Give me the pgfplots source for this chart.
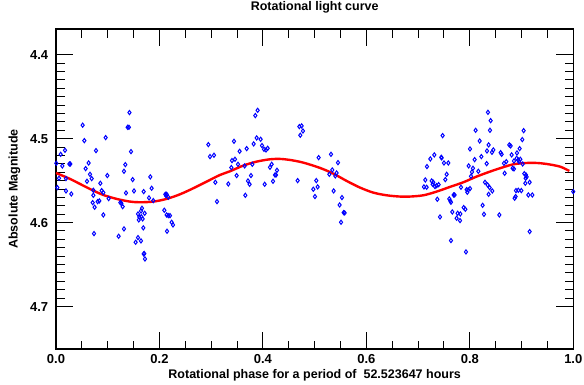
\documentclass[border=0pt]{standalone}
\usepackage{pgfplots}
\pgfplotsset{compat=1.18}
\usepackage{fontspec}
\setmainfont{Liberation Sans}
\newcommand{\lf}{\fontsize{13}{15}\selectfont\bfseries}
\newcommand{\tf}{\fontsize{12.5}{15}\selectfont\bfseries}
\begin{document}
\begin{tikzpicture}
\path[use as bounding box] (-56pt,-36pt) rectangle (528pt,349pt);
\begin{axis}[
  width=517.3pt, height=320pt, scale only axis,
  xmin=0, xmax=1, ymin=4.3695, ymax=4.7505,
  y dir=reverse,
  axis line style={line width=1.1pt},
  every tick/.style={line width=1pt, black},
  tick align=inside, tick pos=both,
  major tick length=17pt, minor tick length=8.5pt,
  xtick={0,0.2,0.4,0.6,0.8,1.0}, minor x tick num=3,
  ytick={4.4,4.5,4.6,4.7}, minor y tick num=9,
  /pgf/number format/assume math mode=true,
  xticklabel style={/pgf/number format/fixed, /pgf/number format/fixed zerofill, /pgf/number format/precision=1, font=\lf, inner sep=0pt, anchor=base, yshift=-14.3pt},
  yticklabel style={/pgf/number format/fixed, /pgf/number format/fixed zerofill, /pgf/number format/precision=1, font=\lf, inner sep=0pt, anchor=east, xshift=-7.7pt},
  title={Rotational light curve},
  title style={font=\tf, inner sep=0pt, at={(axis description cs:0.5,1.0384)}, anchor=base},
  xlabel={Rotational phase for a period of \ 52.523647 hours},
  xlabel style={font=\tf, inner sep=0pt, at={(axis description cs:0.5,-0.0916)}, anchor=base},
  ylabel={Absolute Magnitude},
  ylabel style={font=\tf, inner sep=0pt, at={(axis description cs:-0.0744,0.5)}, anchor=base},
]
\addplot[only marks, mark=diamond, mark size=2.1pt, blue, mark options={line width=1pt, fill=white}] table {
x y
0.142 4.469
0.1385 4.4865
0.141 4.4865
0.0515 4.484
0.0548 4.5024
0.096 4.4988
0.0174 4.5139
0.0773 4.5143
0.145 4.5155
0.009 4.5187
0.0006 4.5294
0.0122 4.5325
0.0258 4.5302
0.0277 4.5302
0.0631 4.529
0.134 4.531
0.0573 4.5357
0.1314 4.5389
0.0657 4.5425
0.0992 4.544
0.0058 4.5472
0.069 4.5476
0.0193 4.5476
0.0599 4.5508
0.1482 4.5488
0.0857 4.5532
0.0026 4.5583
0.0193 4.5623
0.0296 4.5659
0.0722 4.5615
0.0883 4.5619
0.0915 4.5643
0.1353 4.5647
0.1508 4.5623
0.0722 4.5675
0.1018 4.5714
0.0838 4.5742
0.0805 4.575
0.0709 4.5762
0.1244 4.5762
0.1263 4.577
0.1289 4.581
0.0747 4.5817
0.0915 4.5909
0.1585 4.5897
0.161 4.5933
0.16 4.5968
0.0735 4.6131
0.1314 4.6075
0.1211 4.6163
0.1585 4.6179
0.154 4.6234
0.2945 4.5071
0.2977 4.5214
0.3054 4.5198
0.1823 4.5456
0.1849 4.5591
0.1695 4.5631
0.1798 4.5706
0.1881 4.5738
0.2113 4.5663
0.2139 4.5663
0.2126 4.5679
0.2171 4.5698
0.3112 4.575
0.308 4.552
0.3331 4.554
0.1662 4.5829
0.1643 4.5861
0.1714 4.5889
0.1649 4.5929
0.1675 4.5956
0.2094 4.5853
0.2139 4.5909
0.2171 4.5917
0.2204 4.5917
0.2236 4.5996
0.2262 4.6028
0.2146 4.6103
0.1688 4.6063
0.1643 4.6218
0.1707 4.6369
0.1695 4.6373
0.172 4.6433
0.3898 4.4663
0.3853 4.4726
0.3441 4.5032
0.3879 4.4992
0.3956 4.5008
0.3821 4.5063
0.3686 4.5119
0.3982 4.5083
0.4021 4.5127
0.4059 4.5135
0.4092 4.5115
0.3550 4.5151
0.3402 4.5262
0.346 4.5246
0.3518 4.5306
0.3389 4.5345
0.3647 4.5325
0.3795 4.5306
0.4169 4.5306
0.4137 4.5341
0.4272 4.5377
0.4233 4.5433
0.4253 4.5433
0.3492 4.544
0.3769 4.544
0.3711 4.5504
0.3743 4.5544
0.4195 4.5508
0.4034 4.5544
0.366 4.5675
0.4671 4.55
0.4704 4.4857
0.4749 4.4849
0.4774 4.4909
0.4722 4.496
0.5077 4.5226
0.5032 4.55
0.4974 4.5603
0.5058 4.5575
0.5006 4.569
0.5316 4.5187
0.5451 4.5286
0.5341 4.5373
0.5284 4.5425
0.5425 4.5409
0.5399 4.5444
0.5367 4.5623
0.5528 4.5702
0.5483 4.579
0.5561 4.5881
0.5580 4.5885
0.551 4.5996
0.835 4.4687
0.8402 4.4786
0.8112 4.4901
0.8389 4.4901
0.7474 4.4964
0.819 4.5028
0.8363 4.5075
0.8003 4.5123
0.7313 4.5194
0.7236 4.5242
0.7448 4.5222
0.7455 4.523
0.8222 4.5214
0.8331 4.5147
0.8428 4.5163
0.8454 4.5135
0.8093 4.525
0.7171 4.5333
0.75 4.529
0.7584 4.529
0.7977 4.5325
0.806 4.5353
0.8325 4.5298
0.8041 4.5397
0.8022 4.5448
0.8164 4.5389
0.7552 4.5425
0.7526 4.5488
0.7139 4.5492
0.7262 4.5504
0.7294 4.552
0.7281 4.5544
0.7358 4.556
0.7326 4.5571
0.7397 4.5548
0.7113 4.5575
0.7165 4.5579
0.8293 4.552
0.8344 4.5552
0.8383 4.5583
0.7829 4.5579
0.7938 4.5607
0.7970 4.5611
0.8003 4.5595
0.7951 4.5639
0.7706 4.5671
0.7687 4.5671
0.7371 4.5722
0.7603 4.5718
0.7622 4.5742
0.7635 4.5758
0.7881 4.5821
0.7913 4.5841
0.8247 4.5794
0.7661 4.5873
0.7764 4.5889
0.7816 4.5897
0.8273 4.5901
0.7423 4.5933
0.7745 4.5948
0.781 4.5976
0.8570 4.5909
0.7635 4.6214
0.7925 4.6349
0.8363 4.5663
0.8434 4.5623
0.904 4.4905
0.9014 4.5012
0.8963 4.5119
0.8763 4.5075
0.8789 4.5087
0.8911 4.5171
0.8595 4.5167
0.8615 4.5187
0.8808 4.5194
0.8705 4.5274
0.866 4.5294
0.8905 4.5234
0.8937 4.5254
0.8976 4.5246
0.8950 4.5274
0.9021 4.5302
0.8853 4.5266
0.8827 4.5353
0.8853 4.5361
0.8673 4.5413
0.9053 4.5417
0.9085 4.5433
0.9098 4.5456
0.9079 4.5472
0.9156 4.552
0.9072 4.5532
0.8892 4.5619
0.8937 4.5615
0.8995 4.5619
0.8866 4.571
0.8885 4.569
0.9131 4.5671
0.9208 4.5671
0.9156 4.6107
0.9999 4.5631
};
\addplot[red, line width=2.4pt, smooth] coordinates {
(0.0,4.5409) (0.0271,4.5480) (0.0528,4.5560) (0.0722,4.5619) (0.0915,4.5671)
(0.1173,4.5718) (0.143,4.5750) (0.1624,4.5758) (0.1881,4.5750) (0.2139,4.5718)
(0.2397,4.5663) (0.2655,4.5591) (0.2912,4.5512) (0.317,4.5433) (0.3363,4.5389)
(0.3621,4.5321) (0.3879,4.5274) (0.4137,4.5246) (0.433,4.5242) (0.4523,4.5254)
(0.4781,4.5286) (0.5103,4.5349) (0.5361,4.5417) (0.5619,4.5504) (0.5876,4.5583)
(0.6134,4.5643) (0.6392,4.5675) (0.6649,4.5690) (0.6843,4.5690) (0.7101,4.5675)
(0.7358,4.5631) (0.7616,4.5575) (0.7874,4.5520) (0.8131,4.5452) (0.8389,4.5393)
(0.8582,4.5353) (0.884,4.5306) (0.9098,4.5290) (0.9291,4.5290) (0.9485,4.5302)
(0.9742,4.5333) (0.9923,4.5385)
};
\end{axis}
\end{tikzpicture}
\end{document}
